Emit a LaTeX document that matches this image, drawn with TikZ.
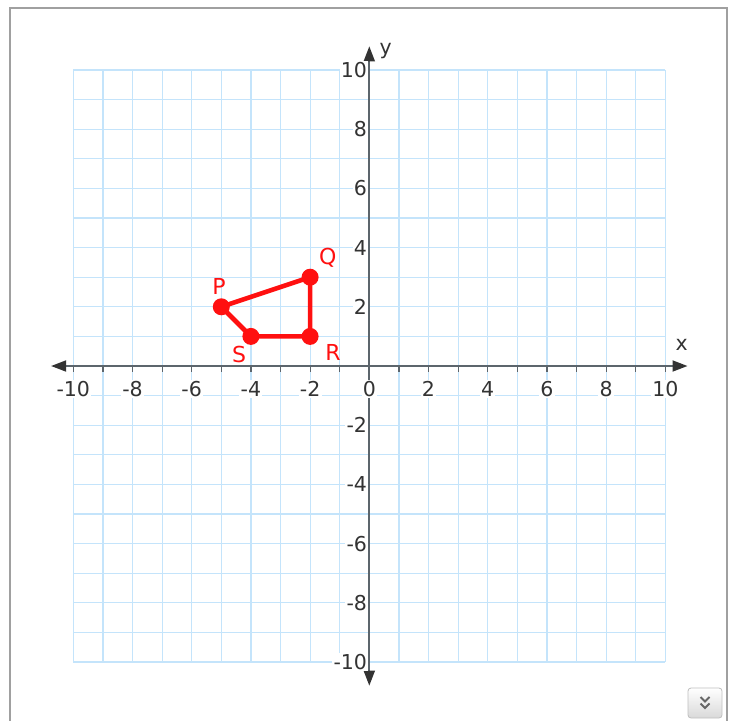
\documentclass[tikz,border=0pt]{standalone}
\usepackage{fontspec}
\setmainfont{DejaVu Sans}
\usetikzlibrary{arrows.meta}
\definecolor{gridblue}{HTML}{C4E4FB}
\definecolor{axisgray}{HTML}{5C656C}
\definecolor{tipgray}{HTML}{333333}
\definecolor{labgray}{HTML}{333333}
\definecolor{ptred}{HTML}{FF1010}
\definecolor{framegray}{HTML}{A0A0A0}
\tikzset{
  gridline/.style={draw=gridblue, line width=1.2pt},
  axisline/.style={draw=axisgray, line width=1.8pt, {Triangle[length=15pt,width=11pt,fill=tipgray,color=tipgray]}-{Triangle[length=15pt,width=11pt,fill=tipgray,color=tipgray]}},
  tickline/.style={draw=axisgray, line width=1.2pt},
  numlab/.style={font=\fontsize{20.5}{20.5}\selectfont, text=labgray, fill=white, inner sep=1.2pt},
  axlab/.style={font=\fontsize{20.5}{20.5}\selectfont, text=labgray, inner sep=0pt},
  ptdot/.style={circle, fill=ptred, minimum size=17pt, inner sep=0pt},
  ptlab/.style={font=\fontsize{22}{22}\selectfont, text=ptred, inner sep=0pt},
  polyline/.style={draw=ptred, line width=4.6pt, line join=round},
  framebox/.style={draw=framegray, line width=1.3pt},
}
\begin{document}
\begin{tikzpicture}[x=1pt,y=-1pt]
\useasboundingbox (0,0) rectangle (730,720);
% outer frame (open at the bottom)
\draw[framebox] (10,722) -- (10,8) -- (727,8) -- (727,722);
\begin{scope}[shift={(369.3,366)}, x=29.6pt, y=29.6pt]
  % grid
  \foreach \i in {-10,...,10} {
    \draw[gridline] (\i,-10) -- (\i,10);
    \draw[gridline] (-10,\i) -- (10,\i);
  }
  % axes
  \coordinate (xl) at (-10.75,0);
  \coordinate (xr) at (10.75,0);
  \coordinate (yb) at (0,-10.8);
  \coordinate (yt) at (0,10.8);
  \draw[axisline] (xl) -- (xr);
  \draw[axisline] (yb) -- (yt);
  % ticks on x axis
  \foreach \i in {-10,...,10} {
    \draw[tickline] (\i,0) -- (\i,-0.2);
  }
  % x labels
  \foreach \i in {-10,-8,-6,-4,-2,0,2,4,6,8,10} {
    \node[numlab] (xn\i) at (\i,-0.78) {\i};
  }
  % y labels
  \foreach \i in {-10,-8,-6,-4,-2,2,4,6,8,10} {
    \node[numlab, anchor=east] (yn\i) at (-0.03,\i) {\i};
  }
  \node[axlab] (xlab) at (10.55,0.72) {x};
  \node[axlab] (ylab) at (0.55,10.65) {y};
  % quadrilateral
  \coordinate (p) at (-5,2);
  \coordinate (q) at (-2,3);
  \coordinate (r) at (-2,1);
  \coordinate (s) at (-4,1);
  \draw[polyline] (p) -- (q) -- (r) -- (s) -- cycle;
  \node[ptdot] (P) at (p) {};
  \node[ptdot] (Q) at (q) {};
  \node[ptdot] (R) at (r) {};
  \node[ptdot] (S) at (s) {};
  \node[ptlab] (Pl) at (-5.08,2.68) {P};
  \node[ptlab] (Ql) at (-1.4,3.65) {Q};
  \node[ptlab] (Rl) at (-1.23,0.46) {R};
  \node[ptlab] (Sl) at (-4.4,0.4) {S};
\end{scope}
% bottom-right button
\shade[top color=white, bottom color=black!15, draw=black!25, line width=0.8pt, rounded corners=3pt] (688,688) rectangle (722,718);
\coordinate (btn) at (705,703);
\draw[draw=black!60, line width=2pt, line join=miter] ([shift={(-4.5,-6)}]btn) -- ([shift={(0,-1.5)}]btn) -- ([shift={(4.5,-6)}]btn);
\draw[draw=black!60, line width=2pt, line join=miter] ([shift={(-4.5,0.5)}]btn) -- ([shift={(0,5)}]btn) -- ([shift={(4.5,0.5)}]btn);
\end{tikzpicture}
\end{document}
